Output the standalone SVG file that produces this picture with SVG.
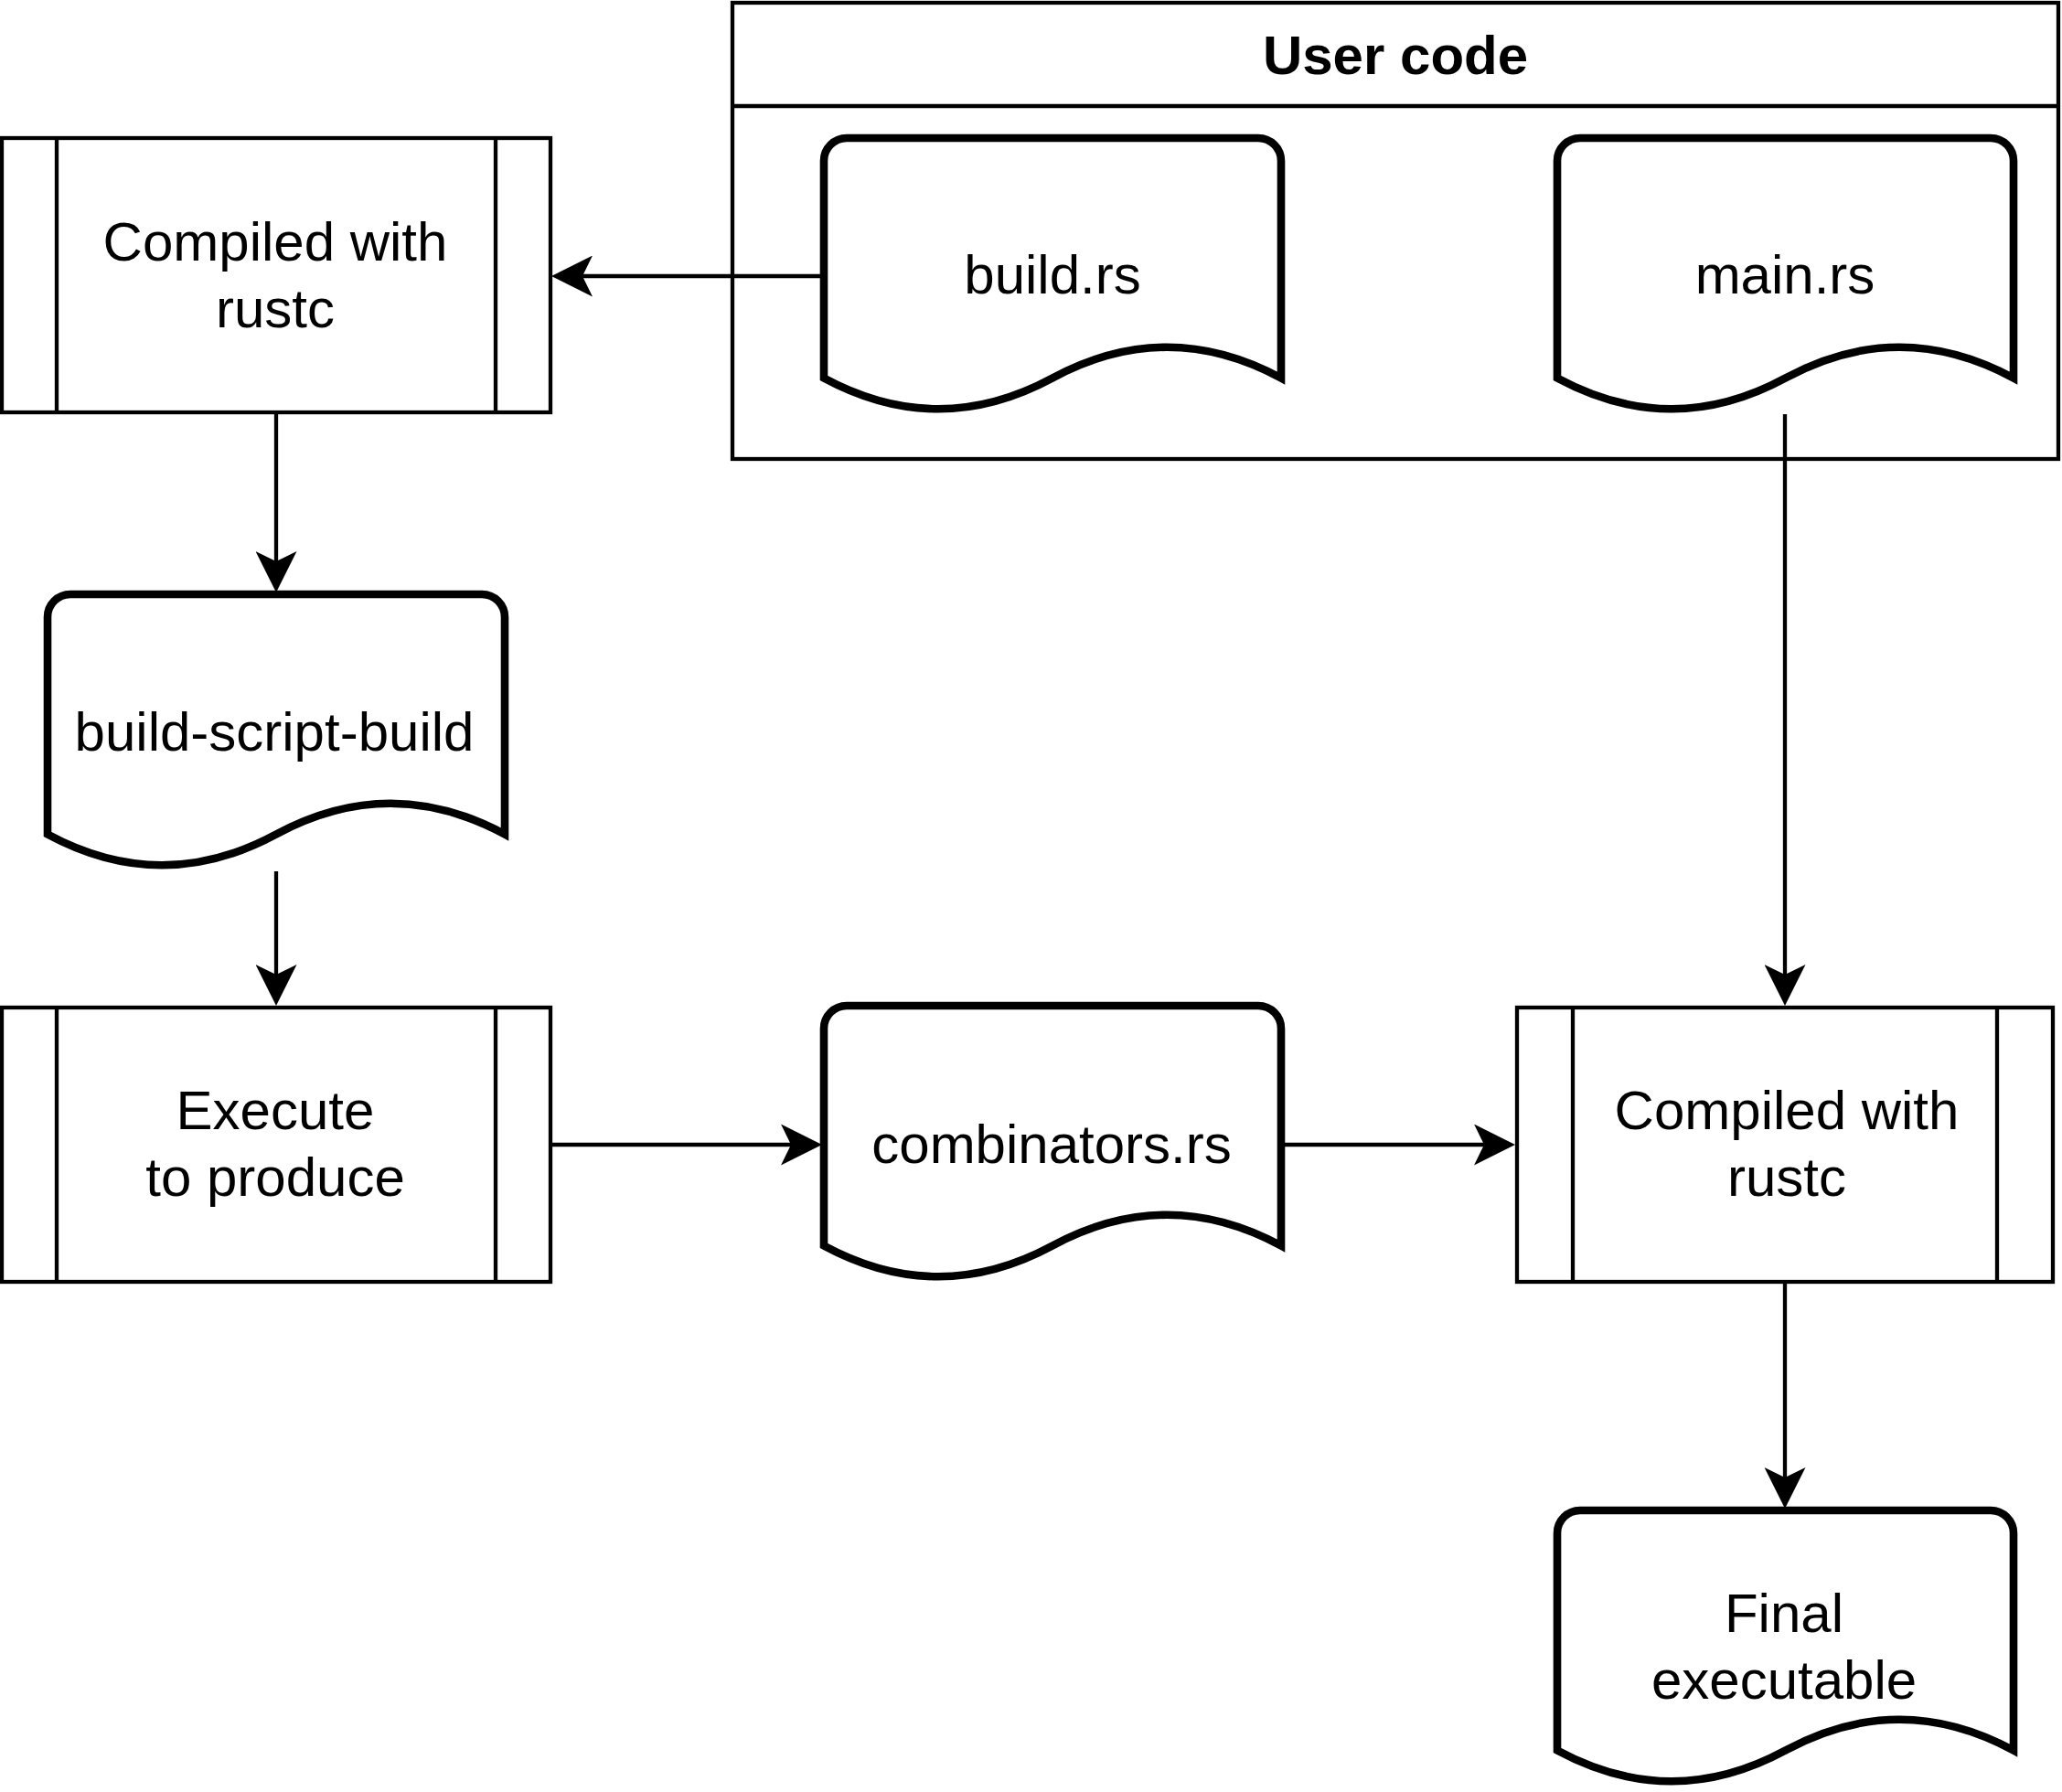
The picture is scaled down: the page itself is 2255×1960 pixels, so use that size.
<svg xmlns="http://www.w3.org/2000/svg" width="2255" height="1960" viewBox="0 0 2255 1960">
<defs>
<style>
.thin{fill:#fff;stroke:#000;stroke-width:4.3}
.line{fill:none;stroke:#000;stroke-width:4.3}
.doc{fill:#fff;stroke:#000;stroke-width:8.6;stroke-linejoin:miter}
.conn{fill:none;stroke:#000;stroke-width:4.3}
text{font-family:"Liberation Sans",Arial,sans-serif;font-size:60px;fill:#000;text-anchor:middle}
.bold{font-weight:bold}
</style>
<marker id="arrow" markerUnits="userSpaceOnUse" markerWidth="45" markerHeight="45" viewBox="0 0 45 45" refX="25" refY="22.5" orient="auto">
<path d="M45,22.5 L0,0 L11,22.5 L0,45 Z" fill="#000"/>
</marker>
</defs>
<rect width="2255" height="1960" fill="#fff"/>

<g id="user-code">
<rect class="thin" x="801" y="3" width="1450" height="499"/>
<line class="line" x1="801" y1="116" x2="2251" y2="116"/>
<text class="bold" x="1526" y="81">User code</text>
</g>

<g id="connectors">
<line class="conn" x1="901" y1="302" x2="623" y2="302" marker-end="url(#arrow)"/>
<line class="conn" x1="302" y1="451" x2="302" y2="628" marker-end="url(#arrow)"/>
<line class="conn" x1="302" y1="953" x2="302" y2="1080" marker-end="url(#arrow)"/>
<line class="conn" x1="602" y1="1252" x2="879" y2="1252" marker-end="url(#arrow)"/>
<line class="conn" x1="1402" y1="1252" x2="1637" y2="1252" marker-end="url(#arrow)"/>
<line class="conn" x1="1952" y1="453" x2="1952" y2="1080" marker-end="url(#arrow)"/>
<line class="conn" x1="1952" y1="1402" x2="1952" y2="1630" marker-end="url(#arrow)"/>
</g>

<g id="build-rs">
<path class="doc" d="M901,176 A25,25 0 0 1 926,151 L1376,151 A25,25 0 0 1 1401,176 L1401,413.5 Q1276,346 1151,413.5 Q1026,481 901,413.5 Z"/>
<text x="1151" y="321">build.rs</text>
</g>

<g id="main-rs">
<path class="doc" d="M1703,176 A25,25 0 0 1 1728,151 L2177,151 A25,25 0 0 1 2202,176 L2202,413.5 Q2077,346 1952.5,413.5 Q1828,481 1703,413.5 Z"/>
<text x="1952" y="321">main.rs</text>
</g>

<g id="compiled-1">
<rect class="thin" x="2" y="151" width="600" height="300"/>
<line class="line" x1="62" y1="151" x2="62" y2="451"/>
<line class="line" x1="542" y1="151" x2="542" y2="451"/>
<text x="301" y="285">Compiled with</text>
<text x="301" y="358">rustc</text>
</g>

<g id="build-script-build">
<path class="doc" d="M52,675 A25,25 0 0 1 77,650 L527,650 A25,25 0 0 1 552,675 L552,912.5 Q427,845 302,912.5 Q177,980 52,912.5 Z"/>
<text x="300" y="821">build-script-build</text>
</g>

<g id="execute">
<rect class="thin" x="2" y="1102" width="600" height="300"/>
<line class="line" x1="62" y1="1102" x2="62" y2="1402"/>
<line class="line" x1="542" y1="1102" x2="542" y2="1402"/>
<text x="301" y="1235">Execute</text>
<text x="301" y="1308">to produce</text>
</g>

<g id="combinators-rs">
<path class="doc" d="M901,1125 A25,25 0 0 1 926,1100 L1376,1100 A25,25 0 0 1 1401,1125 L1401,1362.5 Q1276,1295 1151,1362.5 Q1026,1430 901,1362.5 Z"/>
<text x="1150" y="1272">combinators.rs</text>
</g>

<g id="compiled-2">
<rect class="thin" x="1659" y="1102" width="586" height="300"/>
<line class="line" x1="1720" y1="1102" x2="1720" y2="1402"/>
<line class="line" x1="2184" y1="1102" x2="2184" y2="1402"/>
<text x="1954" y="1235">Compiled with</text>
<text x="1954" y="1308">rustc</text>
</g>

<g id="final-executable">
<path class="doc" d="M1703,1677 A25,25 0 0 1 1728,1652 L2177,1652 A25,25 0 0 1 2202,1677 L2202,1914.5 Q2077,1847 1952.5,1914.5 Q1828,1982 1703,1914.5 Z"/>
<text x="1951" y="1785">Final</text>
<text x="1951" y="1858">executable</text>
</g>
</svg>
